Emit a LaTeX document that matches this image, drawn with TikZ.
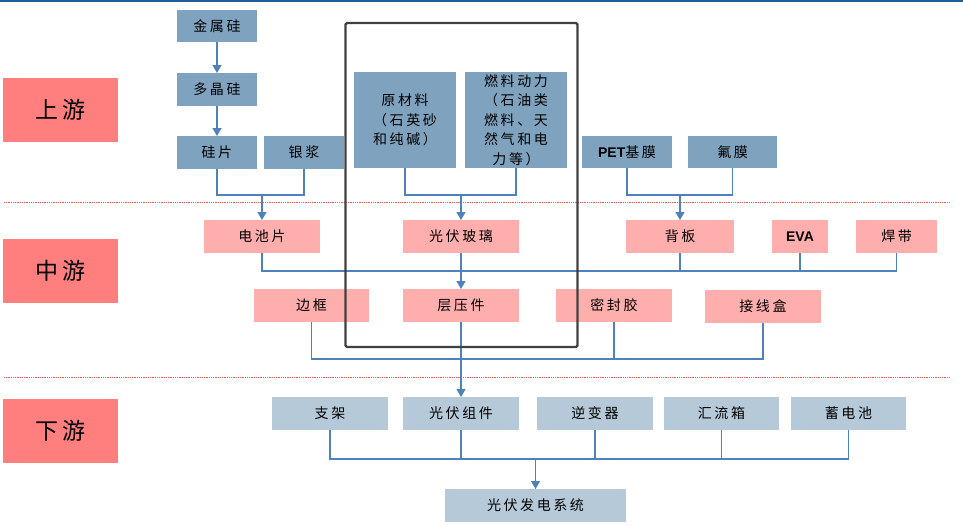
\documentclass[tikz,border=0pt]{standalone}
\usepackage{fontspec}
\newfontfamily\cjk[LetterSpace=18]{Noto Sans CJK SC}
\newfontfamily\latinb{Liberation Sans}
\usetikzlibrary{arrows.meta}
\definecolor{upblue}{HTML}{7FA3BF}
\definecolor{lowblue}{HTML}{B5C9D8}
\definecolor{midpink}{HTML}{FFAEAE}
\definecolor{stagered}{HTML}{FF7F7F}
\definecolor{lnblue}{HTML}{4F81BD}
\definecolor{framegray}{HTML}{404040}
\definecolor{topblue}{HTML}{1F5C99}
\definecolor{sepred}{HTML}{FF5050}
\tikzset{
  box/.style={inner sep=0pt, outer sep=0pt, align=center, text=black,
    font=\cjk\fontsize{14}{19.5}\selectfont},
  upbox/.style={box, fill=upblue},
  midbox/.style={box, fill=midpink},
  lowbox/.style={box, fill=lowblue},
  stagebox/.style={box, fill=stagered, minimum width=115pt, minimum height=64pt,
    font=\cjk\fontsize{23}{26}\selectfont},
  ln/.style={draw=lnblue, line width=1.2pt},
  arr/.style={ln, -{Triangle[width=9pt,length=8pt]}},
  sep/.style={draw=sepred, line width=0.8pt, densely dotted},
}
\begin{document}
\begin{tikzpicture}[x=1pt,y=-1pt]
\useasboundingbox (0,0) rectangle (963,525);
\fill[white] (0,0) rectangle (963,525);
\draw[topblue, line width=1.6pt] (0,0.8) -- (963,0.8);
% separators
\draw[sep] (4,202) -- (950,202);
\draw[sep] (4,377) -- (950,377);
% stage labels
\node[stagebox] (up) at (60.5,110) {上游};
\node[stagebox] (mid) at (60.5,270.5) {中游};
\node[stagebox] (down) at (60.5,431) {下游};
% upstream
\node[upbox, minimum width=80pt, minimum height=32pt] (jsg) at (217,26) {金属硅};
\node[upbox, minimum width=80pt, minimum height=33pt] (djg) at (217,89.5) {多晶硅};
\node[upbox, minimum width=80pt, minimum height=33pt] (gp) at (217,152.5) {硅片};
\node[upbox, minimum width=80pt, minimum height=33pt] (yj) at (304,152.5) {银浆};
\node[upbox, minimum width=102pt, minimum height=96pt] (ycl) at (405,120) {原材料\\（石英砂\\和纯碱）};
\node[upbox, minimum width=102pt, minimum height=96pt] (rl) at (516,120) {燃料动力\\（石油类\\燃料、天\\然气和电\\力等）};
\node[upbox, minimum width=90pt, minimum height=32pt] (pet) at (627,152) {{\latinb\bfseries PET}基膜};
\node[upbox, minimum width=89pt, minimum height=32pt] (fm) at (732.5,152) {氟膜};
% midstream row 1
\node[midbox, minimum width=116pt, minimum height=33pt] (dcp) at (262,236.5) {电池片};
\node[midbox, minimum width=116pt, minimum height=33pt] (gfbl) at (461,236.5) {光伏玻璃};
\node[midbox, minimum width=108pt, minimum height=33pt] (bb) at (680,236.5) {背板};
\node[midbox, minimum width=56pt, minimum height=33pt] (eva) at (800,236.5) {\latinb\bfseries EVA};
\node[midbox, minimum width=81pt, minimum height=33pt] (hd) at (896.5,236.5) {焊带};
% midstream row 2
\node[midbox, minimum width=115pt, minimum height=33pt] (bk) at (311.5,305.5) {边框};
\node[midbox, minimum width=116pt, minimum height=33pt] (cyj) at (461,305.5) {层压件};
\node[midbox, minimum width=116pt, minimum height=33pt] (mfj) at (614,305.5) {密封胶};
\node[midbox, minimum width=116pt, minimum height=33pt] (jxh) at (763,306.5) {接线盒};
% downstream
\node[lowbox, minimum width=116pt, minimum height=33pt] (zj) at (330,413.5) {支架};
\node[lowbox, minimum width=116pt, minimum height=33pt] (gfzj) at (461,413.5) {光伏组件};
\node[lowbox, minimum width=116pt, minimum height=33pt] (nbq) at (595,413.5) {逆变器};
\node[lowbox, minimum width=115pt, minimum height=33pt] (hlx) at (721.5,413.5) {汇流箱};
\node[lowbox, minimum width=115pt, minimum height=33pt] (xdc) at (848.5,413.5) {蓄电池};
\node[lowbox, minimum width=181pt, minimum height=33pt] (xt) at (535.5,505.5) {光伏发电系统};
% junction coordinates
\coordinate (m1) at (262,195);
\coordinate (m2) at (461,195);
\coordinate (m3) at (680,195);
\coordinate (m4) at (461,271);
\coordinate (m5) at (461,359);
\coordinate (m6) at (535.5,459);
% connectors upstream
\draw[arr] (jsg.south) -- (djg.north);
\draw[arr] (djg.south) -- (gp.north);
\draw[ln] (gp.south) -- (gp.south |- m1) -- (yj.south |- m1) -- (yj.south);
\draw[arr] (m1) -- (dcp.north);
\draw[ln] (ycl.south) -- (ycl.south |- m2) -- (rl.south |- m2) -- (rl.south);
\draw[arr] (m2) -- (gfbl.north);
\draw[ln] (pet.south) -- (pet.south |- m3) -- (fm.south |- m3) -- (fm.south);
\draw[arr] (m3) -- (bb.north);
% midstream row 1 merge
\draw[ln] (dcp.south) -- (dcp.south |- m4) -- (hd.south |- m4) -- (hd.south);
\draw[ln] (bb.south) -- (bb.south |- m4);
\draw[ln] (eva.south) -- (eva.south |- m4);
\draw[arr] (gfbl.south) -- (cyj.north);
% midstream row 2 merge
\draw[ln] (bk.south) -- (bk.south |- m5) -- (jxh.south |- m5) -- (jxh.south);
\draw[ln] (mfj.south) -- (mfj.south |- m5);
\draw[arr] (cyj.south) -- (gfzj.north);
% downstream merge
\draw[ln] (zj.south) -- (zj.south |- m6) -- (xdc.south |- m6) -- (xdc.south);
\draw[ln] (gfzj.south) -- (gfzj.south |- m6);
\draw[ln] (nbq.south) -- (nbq.south |- m6);
\draw[ln] (hlx.south) -- (hlx.south |- m6);
\draw[arr] (m6) -- (xt.north);
% frame
\draw[framegray, line width=2.4pt, rounded corners=1.5pt] (345.5,23) rectangle (577.5,347);
\end{tikzpicture}
\end{document}
